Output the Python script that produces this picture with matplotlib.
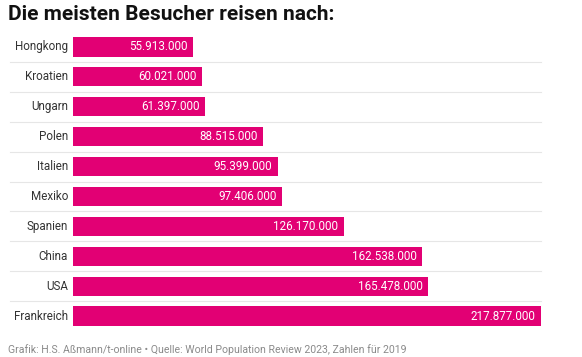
import matplotlib
matplotlib.use("Agg")
import matplotlib.pyplot as plt

countries = ["Hongkong", "Kroatien", "Ungarn", "Polen", "Italien", "Mexiko",
             "Spanien", "China", "USA", "Frankreich"]
visitors = [55913000, 60021000, 61397000, 88515000, 95399000, 97406000,
            126170000, 162538000, 165478000, 217877000]
value_labels = ["55.913.000", "60.021.000", "61.397.000", "88.515.000", "95.399.000",
                "97.406.000", "126.170.000", "162.538.000", "165.478.000", "217.877.000"]

title = "Die meisten Besucher reisen nach:"
footer = "Grafik: H.S. Aßmann/t-online • Quelle: World Population Review 2023, Zahlen für 2019"

plt.rcParams['font.family'] = ['Roboto', 'DejaVu Sans']

W, H = 582, 357
fig = plt.figure(figsize=(W / 100, H / 100), dpi=100)
left, right = 73, 541
top, bottom = 32, 331
ax = fig.add_axes([left / W, 1 - bottom / H, (right - left) / W, (bottom - top) / H])

y = list(range(len(countries)))
ax.barh(y, visitors, height=0.64, color="#E20074")
ax.set_xlim(0, max(visitors))
ax.set_ylim(len(countries) - 0.5, -0.5)
ax.axis("off")

for i, (c, v, lab) in enumerate(zip(countries, visitors, value_labels)):
    ax.annotate(c, xy=(0, i), xytext=(-3.5, 0), textcoords="offset points",
                ha="right", va="center", fontsize=8.4, color="#333333")
    ax.annotate(lab, xy=(v, i), xytext=(-4, 0), textcoords="offset points",
                ha="right", va="center", fontsize=8.4, color="white")

tr = ax.get_yaxis_transform()
x0 = (10 - left) / (right - left)
for i in range(len(countries) - 1):
    ax.plot([x0, 1], [i + 0.5, i + 0.5], transform=tr, color="#e6e6e6",
            lw=0.8, clip_on=False, zorder=0)

fig.text(8 / W, 1 - 15 / H, title, fontsize=15, fontweight="bold",
         ha="left", va="center", color="#111111")
fig.text(8 / W, 1 - 350 / H, footer, fontsize=7.6, ha="left", va="center",
         color="#8a8a8a")

fig.savefig("out.png", dpi=100)
